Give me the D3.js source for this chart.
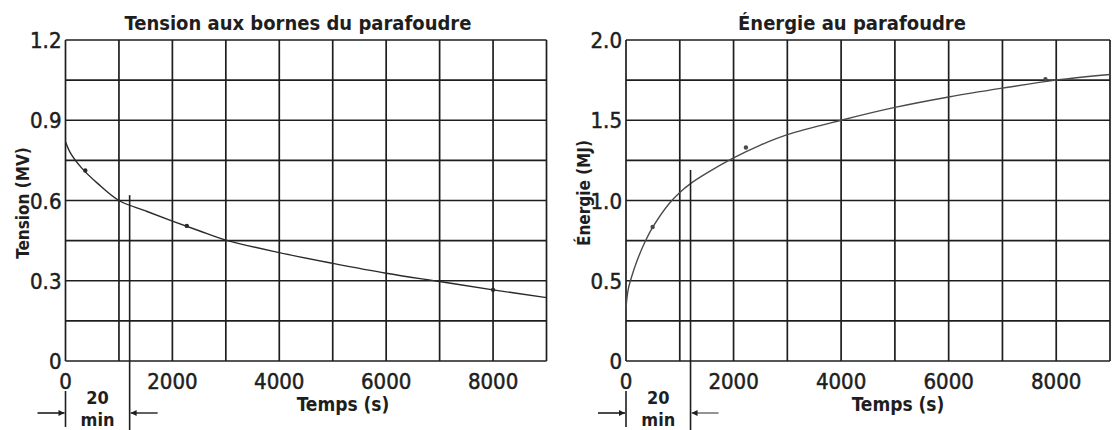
<!DOCTYPE html>
<html>
<head>
<meta charset="utf-8">
<script src="https://cdn.jsdelivr.net/npm/d3@7"></script>
<style>
  html, body { margin: 0; padding: 0; background: #fff; }
  svg { display: block; }
  text { font-family: 'DejaVu Sans Condensed', 'DejaVu Sans', sans-serif; font-stretch: condensed; fill: #1e1e1e; }
</style>
</head>
<body>
<svg id="chart" width="1112" height="430"></svg>
<script>
// ---- Data ----
const tensionTime   = [0, 100, 300, 600, 1000, 1500, 2000, 2500, 3000, 4000, 5000, 6000, 7000, 8000, 9000];
const tensionValues = [0.82, 0.775, 0.722, 0.664, 0.600, 0.561, 0.523, 0.487, 0.452, 0.405, 0.365, 0.328, 0.297, 0.266, 0.237];
const energyTime    = [0, 20, 50, 100, 200, 350, 500, 800, 1000, 1200, 1500, 2000, 2500, 3000, 4000, 5000, 6000, 7000, 8000, 9000];
const energyValues  = [0.33, 0.40, 0.46, 0.52, 0.62, 0.74, 0.835, 0.98, 1.05, 1.105, 1.17, 1.265, 1.345, 1.41, 1.50, 1.58, 1.645, 1.70, 1.75, 1.785];
const tensionMarks  = [[370, 0.712], [2270, 0.505], [8000, 0.266]];
const energyMarks   = [[495, 0.835], [2230, 1.33], [7800, 1.755]];
const xGrid         = [0, 1000, 2000, 3000, 4000, 5000, 6000, 7000, 8000, 9000];
const xTickLabels   = [0, 2000, 4000, 6000, 8000];
const tensionGrid   = [0, 0.15, 0.3, 0.45, 0.6, 0.75, 0.9, 1.05, 1.2];
const tensionTicks  = [0, 0.3, 0.6, 0.9, 1.2];
const tensionTickText = ["0", "0.3", "0.6", "0.9", "1.2"];
const energyGrid    = [0, 0.25, 0.5, 0.75, 1.0, 1.25, 1.5, 1.75, 2.0];
const energyTicks   = [0, 0.5, 1.0, 1.5, 2.0];
const energyTickText = ["0", "0.5", "1.0", "1.5", "2.0"];
const markerTime    = 1200; // 20 min

const svg = d3.select("#chart");
const ink = "#1e1e1e";

svg.append("defs").append("marker")
  .attr("id", "arrow").attr("viewBox", "0 0 10 10")
  .attr("refX", 10).attr("refY", 5)
  .attr("markerWidth", 9).attr("markerHeight", 6)
  .attr("markerUnits", "userSpaceOnUse")
  .attr("orient", "auto")
  .append("path").attr("d", "M0,0 L10,5 L0,10 Z").attr("fill", ink);

function panel(cfg) {
  const g = svg.append("g");
  const x = d3.scaleLinear().domain([0, 9000]).range([cfg.x0, cfg.x1]);
  const y = d3.scaleLinear().domain(cfg.yDomain).range([361, 40]);

  // grid
  g.selectAll(".vg").data(xGrid).join("line")
    .attr("x1", d => x(d)).attr("x2", d => x(d))
    .attr("y1", y(cfg.yDomain[0])).attr("y2", y(cfg.yDomain[1]))
    .attr("stroke", ink).attr("stroke-width", 1.7);
  g.selectAll(".hg").data(cfg.yGrid).join("line")
    .attr("x1", x(0)).attr("x2", x(9000))
    .attr("y1", d => y(d)).attr("y2", d => y(d))
    .attr("stroke", ink).attr("stroke-width", 1.7);

  // x tick labels
  g.selectAll(".xt").data(xTickLabels).join("text")
    .attr("x", d => x(d)).attr("y", 389)
    .attr("text-anchor", "middle").attr("font-size", 22)
    .attr("stroke", ink).attr("stroke-width", 0.5)
    .text(d => d);
  // y tick labels
  g.selectAll(".yt").data(cfg.yTicks).join("text")
    .attr("x", x(0) - 4).attr("y", d => y(d) + 8)
    .attr("text-anchor", "end").attr("font-size", 22)
    .attr("stroke", ink).attr("stroke-width", 0.5)
    .text((d, i) => cfg.yTickText[i]);

  // curve
  const line = d3.line().x(d => x(d[0])).y(d => y(d[1])).curve(d3.curveCatmullRom.alpha(0.5));
  g.append("path").datum(cfg.t.map((t, i) => [t, cfg.v[i]]))
    .attr("d", line).attr("fill", "none")
    .attr("stroke", cfg.curveColor).attr("stroke-width", 1.4);
  g.selectAll(".mk").data(cfg.marks).join("circle")
    .attr("cx", d => x(d[0])).attr("cy", d => y(d[1])).attr("r", 2.2)
    .attr("fill", cfg.curveColor);

  // title
  g.append("text").attr("x", cfg.titleX).attr("y", 30)
    .attr("text-anchor", "middle").attr("font-size", 20).attr("font-weight", "bold")
    .text(cfg.title);
  // y label
  g.append("text").attr("transform", `translate(${cfg.yLabelX},${cfg.yLabelY}) rotate(-90)`)
    .attr("text-anchor", "middle").attr("font-size", 17).attr("font-weight", "bold")
    .text(cfg.yLabel);
  // x label
  g.append("text").attr("x", cfg.xLabelX).attr("y", 411)
    .attr("text-anchor", "middle").attr("font-size", 19).attr("font-weight", "bold")
    .text("Temps (s)");

  // 20 min annotation
  g.append("line").attr("x1", x(0)).attr("x2", x(0)).attr("y1", 391).attr("y2", 427)
    .attr("stroke", ink).attr("stroke-width", 1.6);
  g.append("line").attr("x1", x(markerTime)).attr("x2", x(markerTime))
    .attr("y1", y(cfg.markerTop)).attr("y2", 430)
    .attr("stroke", ink).attr("stroke-width", 1.6);
  g.append("line").attr("x1", x(0) - 28).attr("x2", x(0) - 1).attr("y1", 413).attr("y2", 413)
    .attr("stroke", ink).attr("stroke-width", 1.6).attr("marker-end", "url(#arrow)");
  g.append("line").attr("x1", x(markerTime) + 28).attr("x2", x(markerTime) + 1).attr("y1", 413).attr("y2", 413)
    .attr("stroke", cfg.arrowColor).attr("stroke-width", 1.4).attr("marker-end", "url(#arrow)");
  const mid = (x(0) + x(markerTime)) / 2;
  g.append("text").attr("x", mid).attr("y", 404).attr("text-anchor", "middle")
    .attr("font-size", 18).attr("font-weight", "bold").text("20");
  g.append("text").attr("x", mid).attr("y", 426).attr("text-anchor", "middle")
    .attr("font-size", 18).attr("font-weight", "bold").text("min");
}

panel({
  x0: 65.5, x1: 546.5, yDomain: [0, 1.2], yGrid: tensionGrid, yTicks: tensionTicks, yTickText: tensionTickText,
  t: tensionTime, v: tensionValues, marks: tensionMarks, curveColor: "#2a2a2a",
  title: "Tension aux bornes du parafoudre", titleX: 298,
  yLabel: "Tension (MV)", yLabelX: 29, yLabelY: 203, xLabelX: 343,
  markerTop: 0.62, arrowColor: ink
});
panel({
  x0: 626, x1: 1110, yDomain: [0, 2.0], yGrid: energyGrid, yTicks: energyTicks, yTickText: energyTickText,
  t: energyTime, v: energyValues, marks: energyMarks, curveColor: "#4a4a4a",
  title: "Énergie au parafoudre", titleX: 852,
  yLabel: "Énergie (MJ)", yLabelX: 590, yLabelY: 193, xLabelX: 898,
  markerTop: 1.19, arrowColor: "#666"
});
</script>
</body>
</html>
